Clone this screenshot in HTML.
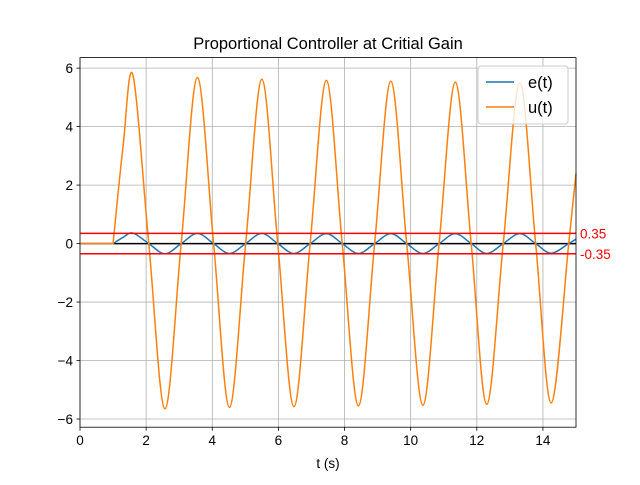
<!DOCTYPE html>
<html><head><meta charset="utf-8"><style>
body{margin:0;background:#fff;}
svg{font-family:"Liberation Sans","DejaVu Sans",sans-serif;}
</style></head><body>
<svg id="chart" width="640" height="480" viewBox="0 0 640 480">
<rect width="640" height="480" fill="#fff"/>
<text x="328" y="49" text-anchor="middle" font-size="16.5">Proportional Controller at Critial Gain</text>
<g id="grid"></g>
<g id="refs"></g>
<g id="series"></g>
<rect x="80" y="57.6" width="496" height="369.6" fill="none" stroke="#000" stroke-width="0.8"/>
<g id="ticks"></g>
<text x="328" y="468" text-anchor="middle" font-size="13.5">t (s)</text>
<g>
<rect x="478" y="66" width="90" height="58" rx="3" fill="#fff" fill-opacity="0.8" stroke="#ccc" stroke-width="1"/>
<line x1="486" y1="82" x2="514" y2="82" stroke="#1f77b4" stroke-width="1.5"/>
<text x="528" y="88" font-size="16.5">e(t)</text>
<line x1="486" y1="107" x2="514" y2="107" stroke="#ff7f0e" stroke-width="1.5"/>
<text x="528" y="113" font-size="16.5">u(t)</text>
</g>
</svg>
<script>
const xTicks=[0,2,4,6,8,10,12,14];
const yTicks=[-6,-4,-2,0,2,4,6];
const refLevels=[0.35,-0.35];
const tKey=[0,1,1.3,1.6,2.08,2.57,3.06,3.55,4.04,4.52,5.01,5.5,5.98,6.47,6.96,7.45,7.93,8.42,8.91,9.4,9.88,10.37,10.86,11.35,11.83,12.3,12.8,13.3,13.78,14.25,14.78,15];
const uKey=[0,0,3.3,5.76,0,-5.65,0,5.68,0,-5.6,0,5.62,0,-5.58,0,5.58,0,-5.55,0,5.55,0,-5.53,0,5.52,0,-5.5,0,5.5,0,-5.45,0,2.4];
const eKey=[0,0,0.21,0.36,0,-0.35,0,0.35,0,-0.34,0,0.35,0,-0.34,0,0.34,0,-0.34,0,0.34,0,-0.34,0,0.34,0,-0.34,0,0.34,0,-0.33,0,0.15];
const NS="http://www.w3.org/2000/svg";
const X0=80,X1=576,Y0=427.2,Y1=57.6,xmin=0,xmax=15,ymin=-6.28,ymax=6.36;
const sx=v=>X0+(v-xmin)/(xmax-xmin)*(X1-X0);
const sy=v=>Y0-(v-ymin)/(ymax-ymin)*(Y0-Y1);
function mk(tag,attrs,parent){const e=document.createElementNS(NS,tag);for(const k in attrs)e.setAttribute(k,attrs[k]);document.getElementById(parent).appendChild(e);return e;}
xTicks.forEach(v=>{
 const g=mk('line',{x1:sx(v),x2:sx(v),y1:Y1,y2:Y0,stroke:'#b0b0b0','stroke-width':0.8},'grid');
 
 
 const t=mk('line',{x1:sx(v),x2:sx(v),y1:Y0,y2:Y0+3.5,stroke:'#000','stroke-width':0.8},'ticks');
 
 
 const l=mk('text',{x:sx(v),y:Y0+18,'text-anchor':'middle','font-size':13.5},'ticks');
 l.textContent=v;
 
 
});
yTicks.forEach(v=>{
 const g=mk('line',{x1:X0,x2:X1,y1:sy(v),y2:sy(v),stroke:'#b0b0b0','stroke-width':0.8},'grid');
 
 
 const t=mk('line',{x1:X0-3.5,x2:X0,y1:sy(v),y2:sy(v),stroke:'#000','stroke-width':0.8},'ticks');
 
 
 const l=mk('text',{x:X0-7,y:sy(v)+5,'text-anchor':'end','font-size':13.5},'ticks');
 l.textContent=(v<0?'\u2212':'')+Math.abs(v);
 
 
});
function pathD(ts,vs){
 const P=ts.map((t,i)=>[sx(t),sy(vs[i])]);
 let d='M'+P[0][0]+','+P[0][1]+' L'+P[1][0]+','+P[1][1];
 for(let i=1;i<P.length-1;i++){
  const p0=P[i===1?1:i-1],p1=P[i],p2=P[i+1],p3=P[Math.min(i+2,P.length-1)];
  const c1=[p1[0]+(p2[0]-p0[0])/6,p1[1]+(p2[1]-p0[1])/6];
  const c2=[p2[0]-(p3[0]-p1[0])/6,p2[1]-(p3[1]-p1[1])/6];
  d+=' C'+c1[0]+','+c1[1]+' '+c2[0]+','+c2[1]+' '+p2[0]+','+p2[1];
 }
 return d;
}
const zl=mk('line',{x1:X0,x2:X1,y1:sy(0),y2:sy(0),stroke:'#000','stroke-width':1.5},'refs');


const eP=mk('path',{d:pathD(tKey,eKey),fill:'none',stroke:'#1f77b4','stroke-width':1.5},'series');


const uP=mk('path',{d:pathD(tKey,uKey),fill:'none',stroke:'#ff7f0e','stroke-width':1.5},'series');


refLevels.forEach(v=>{
 const r=mk('line',{x1:X0,x2:X1,y1:sy(v),y2:sy(v),stroke:'red','stroke-width':1.5},'series');
 
 
 const l=mk('text',{x:X1+4,y:sy(v)+5,'font-size':13.5,fill:'red'},'series');
 l.textContent=v.toFixed(2);
 
 
});
</script>
</body></html>
